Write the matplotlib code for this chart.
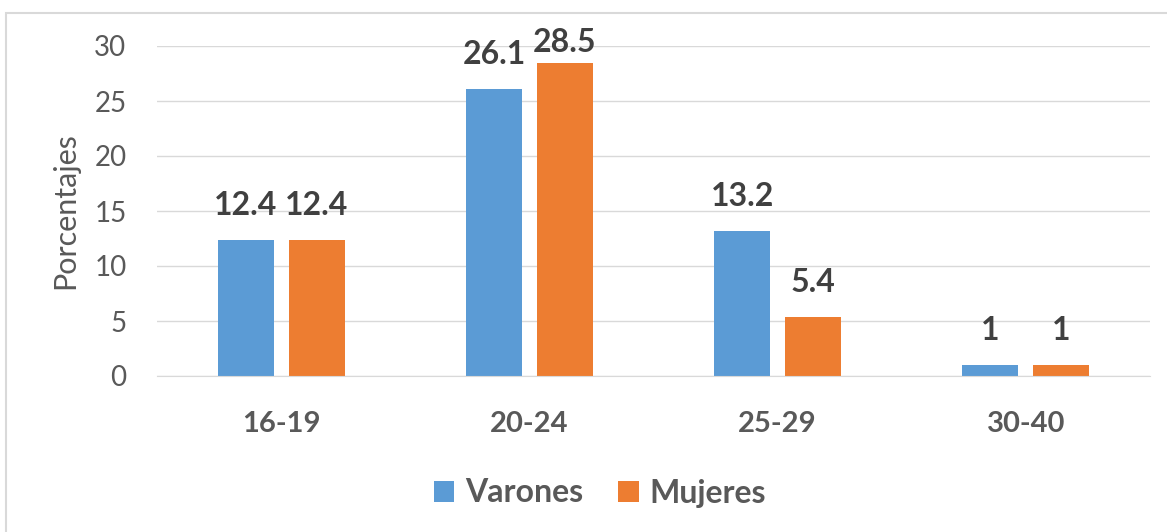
import numpy as np
import matplotlib.pyplot as plt
from matplotlib.patches import Rectangle

# Datos del grafico
categorias = ['16-19', '20-24', '25-29', '30-40']
varones = [12.4, 26.1, 13.2, 1]
mujeres = [12.4, 28.5, 5.4, 1]
series = ['Varones', 'Mujeres']
colores = ['#5B9BD5', '#ED7D31']

plt.rcParams['font.family'] = ['Lato', 'DejaVu Sans']

fig = plt.figure(figsize=(11.67, 5.32), dpi=100)
ax = fig.add_axes([157 / 1167, 1 - 376 / 532, (1150 - 157) / 1167, 330 / 532])

# marco del grafico
fig.patches.append(Rectangle((6 / 1167, -0.01), 1.02, 1 - 13 / 532 + 0.01,
                             transform=fig.transFigure, fill=False,
                             edgecolor='#D9D9D9', lw=1.5))

x = np.arange(len(categorias))
ancho = 0.226
desp = 0.143

b1 = ax.bar(x - desp, varones, ancho, color=colores[0], label=series[0])
b2 = ax.bar(x + desp, mujeres, ancho, color=colores[1], label=series[1])

# etiquetas de datos (Excel las baja si no caben arriba)
for barras, valores in [(b1, varones), (b2, mujeres)]:
    for b, v in zip(barras, valores):
        ax.text(b.get_x() + b.get_width() / 2, min(v + 1.8, 29.0), f'{v:g}',
                ha='center', va='bottom', fontsize=23, fontweight='bold',
                color='#404040')

ax.set_xlim(-0.5, len(categorias) - 0.5)
ax.set_ylim(0, 30)
ax.set_yticks(range(0, 31, 5))
ax.yaxis.grid(True, color='#D9D9D9', lw=1)
ax.set_axisbelow(True)
for s in ['top', 'right', 'left']:
    ax.spines[s].set_visible(False)
ax.spines['bottom'].set_color('#D9D9D9')
ax.tick_params(axis='y', length=0, labelsize=20, labelcolor='#595959', pad=22)
ax.tick_params(axis='x', length=0, labelsize=21, labelcolor='#595959', pad=25)
ax.set_xticks(x)
ax.set_xticklabels(categorias, fontweight='bold')
ax.set_ylabel('Porcentajes', fontsize=22, color='#595959', labelpad=11)

leg = fig.legend(loc='center', bbox_to_anchor=(600 / 1167, 1 - 493 / 532), ncol=2,
                 frameon=False, prop={'size': 23, 'weight': 'bold'},
                 handlelength=0.63, handleheight=0.65, handletextpad=0.35,
                 columnspacing=1.1, labelcolor='#595959')

fig.savefig('out.png', dpi=100)
